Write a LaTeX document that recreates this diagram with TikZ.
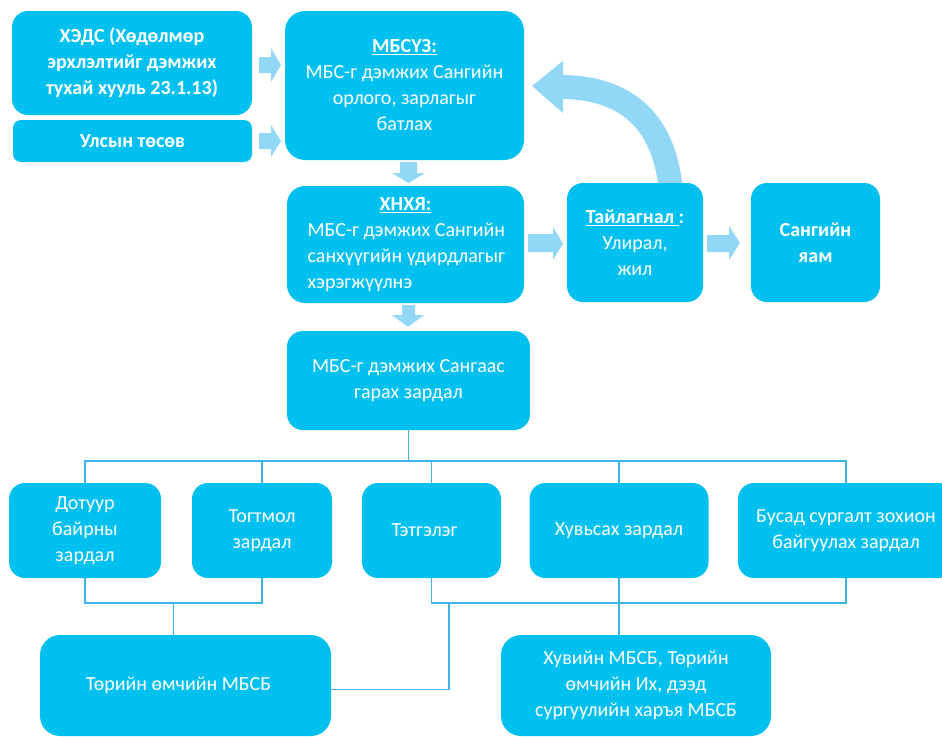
\documentclass[tikz,border=0pt]{standalone}
\usepackage{fontspec}
\setmainfont{Carlito}
\usetikzlibrary{calc}
\definecolor{boxc}{HTML}{00C0F0}
\definecolor{arrc}{HTML}{92D8F6}
\definecolor{linec}{HTML}{3AB5E6}
\begin{document}
\begin{tikzpicture}[x=1pt,y=-1pt,
  box/.style={fill=boxc, rounded corners=16pt, text=white, align=center, inner sep=0pt,
              font=\fontsize{20}{26}\selectfont},
  conn/.style={draw=linec, line width=1.3pt},
  barrow/.style={fill=arrc, draw=none}]
\useasboundingbox (0,0) rectangle (942,736);

% curved feedback arrow (drawn first, under the boxes)
\draw[draw=arrc, line width=24pt] (671,192) .. controls (665,120) and (625,87) .. (560,87);
\fill[arrc] (563,61) -- (532,86) -- (563,113) -- cycle;

% boxes
\node[box, minimum width=240pt, minimum height=104pt] (hed) at (132,63)
  {\textbf{ХЭДС (Хөдөлмөр}\\\textbf{эрхлэлтийг дэмжих}\\\textbf{тухай хууль 23.1.13)}};
\node[box, minimum width=239pt, minimum height=42pt, rounded corners=8pt] (uls) at (132.5,141)
  {\textbf{Улсын төсөв}};
\node[box, minimum width=239pt, minimum height=149pt, rounded corners=20pt] (mbs) at (404.5,85.5)
  {\textbf{\underline{МБСҮЗ:}}\\МБС-г дэмжих Сангийн\\орлого, зарлагыг\\батлах};
\node[box, minimum width=237pt, minimum height=117pt, rounded corners=18pt] (hnh) at (405.5,244.5)
  {\textbf{\underline{ХНХЯ:}}\\\makebox[196pt][l]{МБС-г дэмжих Сангийн}\\\makebox[196pt][l]{санхүүгийн үдирдлагыг}\\\makebox[196pt][l]{хэрэгжүүлнэ}};
\node[box, minimum width=136pt, minimum height=119pt] (tai) at (635,242.5)
  {\textbf{\underline{Тайлагнал\ }:}\\Улирал,\\жил};
\node[box, minimum width=129pt, minimum height=119pt] (san) at (815.5,242.5)
  {\textbf{Сангийн}\\\textbf{яам}};
\node[box, minimum width=243pt, minimum height=99pt] (zar) at (408.5,380.5)
  {МБС-г дэмжих Сангаас\\гарах зардал};

\node[box, minimum width=152pt, minimum height=95pt] (dot) at (85,530.5)
  {Дотуур\\байрны\\зардал};
\node[box, minimum width=140pt, minimum height=95pt] (tog) at (262,530.5)
  {Тогтмол\\зардал};
\node[box, minimum width=139pt, minimum height=95pt] (tet) at (431.5,530.5)
  {Тэтгэлэг\hspace*{14pt}};
\node[box, minimum width=179pt, minimum height=95pt] (huv) at (619,530.5)
  {Хувьсах зардал};
\node[box, minimum width=216pt, minimum height=95pt] (bus) at (846,530.5)
  {Бусад сургалт зохион\\байгуулах зардал};

\node[box, minimum width=291pt, minimum height=101pt, rounded corners=20pt] (tor) at (185.5,685.5)
  {Төрийн өмчийн МБСБ\hspace*{14pt}};
\node[box, minimum width=270pt, minimum height=101pt, rounded corners=20pt] (hvn) at (636,685.5)
  {Хувийн МБСБ, Төрийн\\өмчийн Их, дээд\\сургуулийн харъя МБСБ};

% block arrows
\fill[barrow] (259,57) -- (271,57) -- (271,48) -- (281,65) -- (271,82) -- (271,73) -- (259,73) -- cycle;
\fill[barrow] (259,133) -- (271,133) -- (271,125) -- (281,141) -- (271,157) -- (271,149) -- (259,149) -- cycle;
\fill[barrow] (528,234) -- (553,234) -- (553,227) -- (563,243.5) -- (553,260) -- (553,252) -- (528,252) -- cycle;
\fill[barrow] (707,235) -- (729,235) -- (729,226) -- (740,243) -- (729,260) -- (729,252) -- (707,252) -- cycle;
\fill[barrow] (400,162) -- (400,173) -- (392,173) -- (408.5,183) -- (425,173) -- (417,173) -- (417,162) -- cycle;
\fill[barrow] (402,305) -- (402,315) -- (392,315) -- (408,327) -- (424,315) -- (415,315) -- (415,305) -- cycle;

% connectors
\coordinate (bl) at (0,461);
\coordinate (lb) at (0,603);
\draw[conn] (zar.south) -- (zar.south |- bl);
\draw[conn] (dot.north) |- (bus.north |- bl) -- (bus.north);
\draw[conn] (tog.north) -- (tog.north |- bl);
\draw[conn] (tet.north) -- (tet.north |- bl);
\draw[conn] (huv.north) -- (huv.north |- bl);

\draw[conn] (dot.south) |- (tog.south |- lb) -- (tog.south);
\coordinate (jl) at ($(dot.south |- lb)!0.5!(tog.south |- lb)$);
\draw[conn] (jl) -- (jl |- tor.north);
\draw[conn] (tet.south) |- (bus.south |- lb) -- (bus.south);
\draw[conn] (huv.south) -- (huv.south |- hvn.north);
\coordinate (jr) at (449,603);
\draw[conn] (jr) |- ($(tor.east)+(0,4)$);
\end{tikzpicture}
\end{document}
